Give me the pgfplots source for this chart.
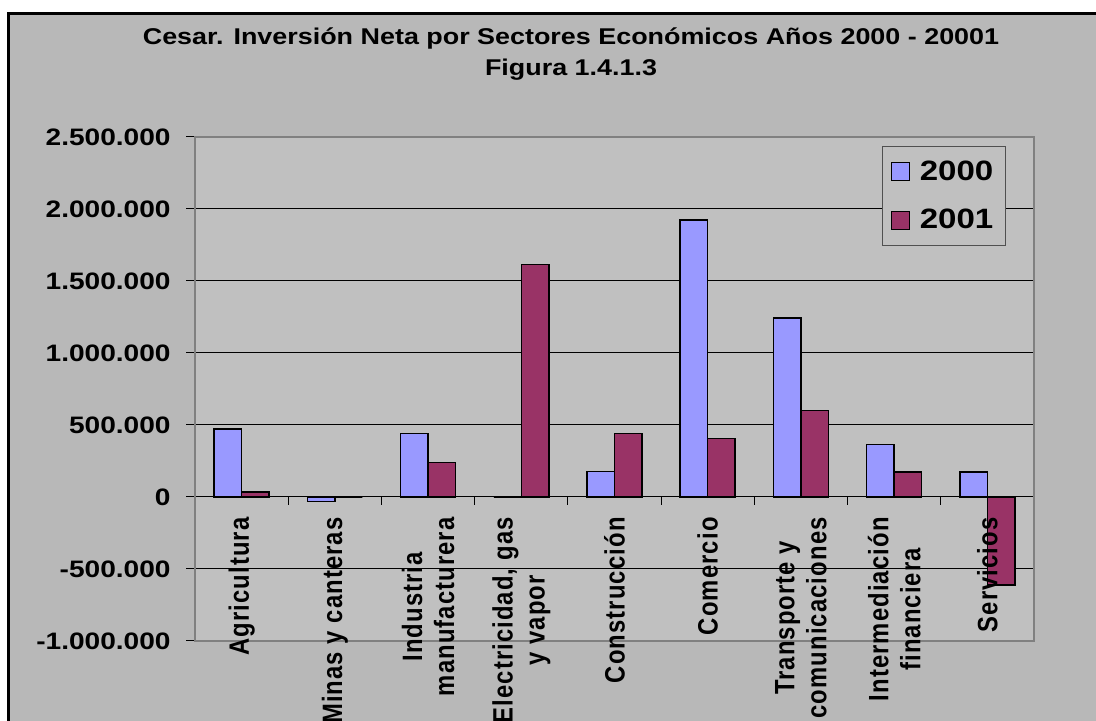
\documentclass[border=0pt]{standalone}
\usepackage{fontspec}
\setmainfont{Liberation Sans}
\newfontfamily\widefont{Liberation Sans}[FakeStretch=1.18]
\newfontfamily\spacedfont{Liberation Sans}[FakeStretch=0.85, LetterSpace=4]
\usepackage{pgfplots}
\pgfplotsset{compat=1.18}

\definecolor{outerbg}{RGB}{184,184,184}
\definecolor{plotbg}{RGB}{192,192,192}
\definecolor{c2000}{RGB}{153,153,255}
\definecolor{c2001}{RGB}{153,51,102}
\definecolor{boxgray}{RGB}{128,128,128}
\definecolor{legendgray}{RGB}{80,80,80}

\begin{document}
\begin{tikzpicture}
\fill[white] (0,0) rectangle (548pt,360.5pt);
\fill[outerbg] (4.1pt,0pt) rectangle (548pt,353.9pt);
\draw[black, line width=1.5pt] (4.1pt,0pt) -- (4.1pt,353.9pt) -- (548pt,353.9pt);

% title
\node[anchor=base, font=\widefont\bfseries\fontsize{11.4}{13}\selectfont] at (285.5pt,338.4pt)
  {Cesar. Inversión Neta por Sectores Económicos Años 2000 - 20001};
\node[anchor=base, font=\widefont\bfseries\fontsize{11.4}{13}\selectfont] at (285.5pt,322.5pt)
  {Figura 1.4.1.3};

\begin{axis}[
    axis on top,
    scale only axis,
    width=419.5pt, height=252pt,
    at={(97.5pt,40pt)}, anchor=south west,
    axis background/.style={fill=plotbg},
    ybar=0pt, bar width=13.75pt,
    xmin=-0.5, xmax=8.5,
    ymin=-1000000, ymax=2500000,
    scaled y ticks=false,
    ytick={-1000000,-500000,0,500000,1000000,1500000,2000000,2500000},
    yticklabels={-1.000.000,-500.000,0,500.000,1.000.000,1.500.000,2.000.000,2.500.000},
    axis line style={draw=boxgray, line width=0.75pt},
    ytick pos=left,
    ytick align=outside,
    major y tick style={black, line width=0.5pt},
    major tick length=4.5pt,
    yticklabel style={font=\widefont\bfseries\fontsize{11.9}{13}\selectfont, inner sep=0pt, anchor=east},
    yticklabel shift=7.5pt,
    xtick={0,...,8},
    xtick pos=bottom,
    major x tick style={draw=none},
    xticklabels={Agricultura, Minas y canteras, {Industria\\manufacturera}, {Electricidad, gas\\y vapor},
        Construcción, Comercio, {Transporte y\\comunicaciones}, {Intermediación\\financiera}, Servicios},
    xticklabel style={rotate=90, anchor=east, align=center, inner sep=0pt,
        font=\spacedfont\bfseries\fontsize{14}{16}\selectfont},
    xticklabel shift=-66.5pt,
    legend style={at={(rel axis cs:0.819,0.982)}, anchor=north west,
        draw=legendgray, fill=plotbg, line width=0.5pt,
        font=\widefont\bfseries\fontsize{14}{16}\selectfont,
        row sep=9pt, inner xsep=4pt, inner ysep=5pt,
        /tikz/every odd column/.append style={column sep=3pt}},
    legend cell align=left,
]

% horizontal grid behind the bars
\pgfplotsinvokeforeach{-500000,0,500000,1000000,1500000,2000000}{
    \draw[black, line width=0.5pt] (axis cs:-0.5,#1) -- (axis cs:8.5,#1);
}

\addplot[fill=c2000, draw=black, line width=0.75pt,
    legend image code/.code={\draw[fill=c2000, draw=black, line width=0.6pt] (0pt,-4.5pt) rectangle (9pt,4.5pt);}]
coordinates {
    (0,472000) (1,-30000) (2,442000) (3,0) (4,178000)
    (5,1922000) (6,1243000) (7,363000) (8,175000)
};
\addlegendentry{2000}

\addplot[fill=c2001, draw=black, line width=0.75pt,
    legend image code/.code={\draw[fill=c2001, draw=black, line width=0.6pt] (0pt,-4.5pt) rectangle (9pt,4.5pt);}]
coordinates {
    (0,35000) (1,0) (2,240000) (3,1613000) (4,442000)
    (5,407000) (6,600000) (7,175000) (8,-610000)
};
\addlegendentry{2001}

% category separators hanging below the zero line
\pgfplotsinvokeforeach{-0.5,0.5,...,8.5}{
    \draw[black, line width=0.5pt] (axis cs:#1,0) -- ++(0pt,-4pt);
}
\draw[black, line width=0.75pt] (rel axis cs:0,0) -- (rel axis cs:0,1);
\end{axis}
\pgfresetboundingbox
\path[use as bounding box] (0,0) rectangle (548pt,360.5pt);
\end{tikzpicture}
\end{document}
